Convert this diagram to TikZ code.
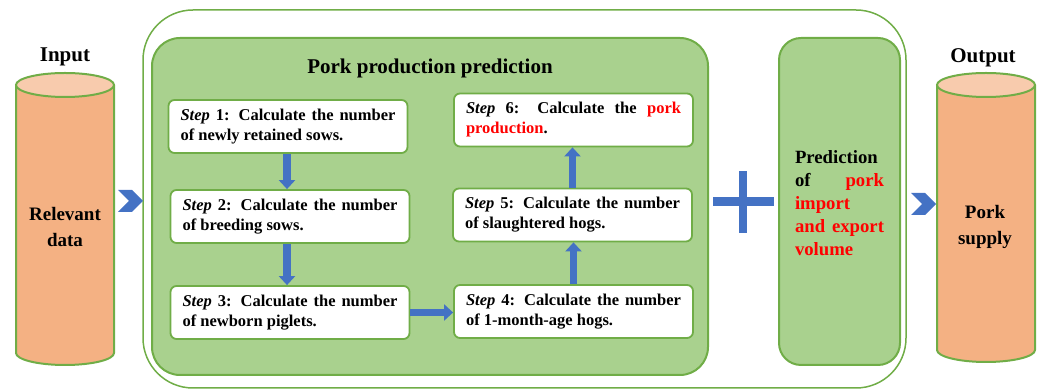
\documentclass[tikz,border=0pt]{standalone}
\usepackage{fontspec}
\setmainfont{Liberation Serif}
\usetikzlibrary{arrows.meta,shapes.symbols,calc}
\definecolor{gfill}{HTML}{A9D18E}
\definecolor{gline}{HTML}{70AD47}
\definecolor{cyl}{HTML}{F4B183}
\definecolor{cyltop}{HTML}{F8CBAD}
\definecolor{blu}{HTML}{4472C4}
\definecolor{rd}{HTML}{FF0000}
\tolerance=10000
\hyphenpenalty=10000
\begin{document}
\begin{tikzpicture}[x=1pt,y=1pt,
 stepbox/.style={draw=gline, line width=1.8pt, fill=white, rounded corners=6pt,
   text width=215pt, inner xsep=12pt, inner ysep=0pt, minimum height=53pt,
   align=justify, font=\fontsize{16.5}{20}\selectfont\bfseries},
 flow/.style={draw=blu, line width=7.5pt, -{Triangle[width=16pt,length=9pt]}},
 chev/.style={signal, signal to=east, signal from=west, fill=blu, draw=none,
   minimum width=25pt, minimum height=22pt, inner sep=0pt},
 lbl/.style={font=\fontsize{21}{25}\selectfont\bfseries},
 ctext/.style={font=\fontsize{19}{26}\selectfont\bfseries, align=center},
 panel/.style={draw=gline, line width=2pt, fill=gfill}]
\useasboundingbox (0,0) rectangle (1042,390);

% input cylinder
\fill[cyl] (16,305) -- (16,37) arc[start angle=180, end angle=360, x radius=49, y radius=12] -- (114,305) -- cycle;
\draw[gline, line width=2pt] (16,305) -- (16,37) arc[start angle=180, end angle=360, x radius=49, y radius=12] -- (114,305);
\draw[gline, line width=2pt, fill=cyltop] (65,305) ellipse[x radius=49, y radius=12];
\node[minimum width=98pt, minimum height=280pt, inner sep=0pt] (inp) at (65,171) {};
\node[lbl] (inlbl) at (65,333) {Input};
\node[ctext] (intext) at (65,163) {Relevant\\data};

% output cylinder
\fill[cyl] (937,305) -- (937,40) arc[start angle=180, end angle=360, x radius=49, y radius=12] -- (1035,305) -- cycle;
\draw[gline, line width=2pt] (937,305) -- (937,40) arc[start angle=180, end angle=360, x radius=49, y radius=12] -- (1035,305);
\draw[gline, line width=2pt, fill=cyltop] (986,305) ellipse[x radius=49, y radius=12];
\node[minimum width=98pt, minimum height=280pt, inner sep=0pt] (outp) at (986,171) {};
\node[lbl] (outlbl) at (983,332) {Output};
\node[ctext] (outtext) at (985,163) {Pork\\supply};

% outer frame
\node[draw=gline, line width=1.5pt, rounded corners=50pt, minimum width=763pt,
  minimum height=378pt, inner sep=0pt] (outer) at (524.5,191) {};

% inner panel
\node[panel, rounded corners=28pt, minimum width=556pt, minimum height=337pt,
  inner sep=0pt] (pp) at (430,183.5) {};
\node[lbl] (title) at (430,322) {Pork production prediction};

% steps
\node[stepbox] (s1) at (288,263.5) {\textit{Step} 1: Calculate the number of newly retained sows.};
\node[stepbox] (s2) at (290,173.5) {\textit{Step} 2: Calculate the number of breeding sows.};
\node[stepbox] (s3) at (290,77.5) {\textit{Step} 3: Calculate the number of newborn piglets.};
\node[stepbox] (s4) at (573.5,78.5) {\textit{Step} 4: Calculate the number of 1-month-age hogs.};
\node[stepbox] (s5) at (572.5,175) {\textit{Step} 5: Calculate the number of slaughtered hogs.};
\node[stepbox] (s6) at (573.5,270) {\textit{Step} 6: Calculate the \textcolor{rd}{pork production}.};

\draw[flow] ([xshift=-1pt]s1.south) -- ([xshift=-1pt]s1.south |- s2.north);
\draw[flow] ([xshift=-3pt]s2.south) -- ([xshift=-3pt]s2.south |- s3.north);
\draw[flow] (s3.east) -- (s3.east -| s4.west);
\draw[flow] (s4.north) -- (s4.north |- s5.south);
\draw[flow] (s5.north) -- (s5.north |- s6.south);

% plus sign
\coordinate (plus) at (743,188);
\fill[blu] ($(plus)+(-30,-4.5)$) rectangle ($(plus)+(31,4.5)$);
\fill[blu] ($(plus)+(-4,-31)$) rectangle ($(plus)+(4,31)$);

% prediction of import/export
\node[panel, rounded corners=22pt, minimum width=121pt, minimum height=327pt,
  inner sep=0pt] (pred) at (839.5,188.5) {};
\node[font=\fontsize{18.7}{23}\selectfont\bfseries, text width=89pt, align=left,
  inner sep=0pt] (predtext) at (839.5,186.5) {Prediction\\
  \makebox[89pt][s]{of\hfill\textcolor{rd}{pork}}\\
  \textcolor{rd}{import}\\
  \makebox[89pt][s]{\textcolor{rd}{and\hfill export}}\\
  \textcolor{rd}{volume}};

% chevrons
\node[chev] (c1) at (130.5,189) {};
\node[chev] (c2) at (923.5,186) {};
\end{tikzpicture}
\end{document}
